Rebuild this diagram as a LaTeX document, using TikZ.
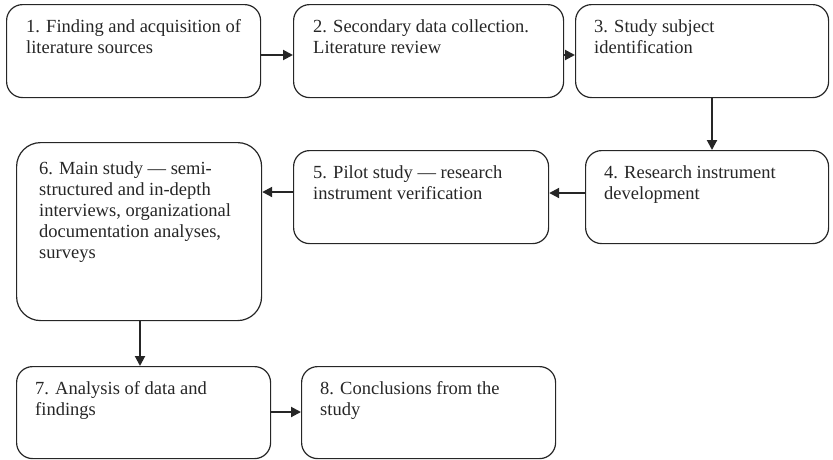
\documentclass[tikz,border=0pt]{standalone}
\usepackage{fontspec}
\setmainfont{Liberation Serif}
\usetikzlibrary{arrows.meta}
\begin{document}
\begin{tikzpicture}[x=1pt,y=-1pt,
  stepbox/.style={draw=black!85, line width=1.2pt, rounded corners=16pt,
    anchor=north west, inner sep=0pt, minimum width=254pt, minimum height=93pt},
  steptext/.style={anchor=north west, inner sep=0pt, align=left,
    font=\fontsize{18.5}{21}\selectfont, text=black!85},
  flow/.style={draw=black!85, line width=2pt,
    -{Triangle[length=10pt,width=10pt]}}]
\useasboundingbox (0,0) rectangle (833,459);

% step boxes
\node[stepbox] (s1) at (6,4) {};
\node[stepbox, minimum width=270pt] (s2) at (293,4) {};
\node[stepbox, minimum width=253pt] (s3) at (575,4) {};
\node[stepbox, minimum width=243pt] (s4) at (585,150) {};
\node[stepbox, minimum width=255pt] (s5) at (293,150) {};
\node[stepbox, minimum width=245pt, minimum height=178pt, rounded corners=24pt] (s6) at (16,142) {};
\node[stepbox, minimum height=92pt] (s7) at (16,366) {};
\node[stepbox, minimum height=92pt] (s8) at (301,366) {};

% step labels
\node[steptext] (t1) at ([shift={(20,15.5)}]s1.north west)
  {1. Finding and acquisition of\\literature sources};
\node[steptext] (t2) at ([shift={(20,15.5)}]s2.north west)
  {2. Secondary data collection.\\Literature review};
\node[steptext] (t3) at ([shift={(19,15.5)}]s3.north west)
  {3. Study subject\\identification};
\node[steptext] (t4) at ([shift={(19,15.5)}]s4.north west)
  {4. Research instrument\\development};
\node[steptext] (t5) at ([shift={(20,15.5)}]s5.north west)
  {5. Pilot study — research\\instrument verification};
\node[steptext] (t6) at ([shift={(23,19.5)}]s6.north west)
  {6. Main study — semi-\\structured and in-depth\\interviews, organizational\\documentation analyses,\\surveys};
\node[steptext] (t7) at ([shift={(19,15.5)}]s7.north west)
  {7. Analysis of data and\\findings};
\node[steptext] (t8) at ([shift={(19,15.5)}]s8.north west)
  {8. Conclusions from the\\study};

% connectors
\draw[flow] (s1.east |- 0,55) -- (s2.west |- 0,55);
\draw[flow] (s2.east |- 0,55) -- (s3.west |- 0,55);
\draw[flow] (s3.south -| 712,0) -- (s4.north -| 712,0);
\draw[flow] (s4.west |- 0,193) -- (s5.east |- 0,193);
\draw[flow] (s5.west |- 0,192) -- (s6.east |- 0,192);
\draw[flow] (s6.south -| 140,0) -- (s7.north -| 140,0);
\draw[flow] (s7.east |- 0,412) -- (s8.west |- 0,412);
\end{tikzpicture}
\end{document}
